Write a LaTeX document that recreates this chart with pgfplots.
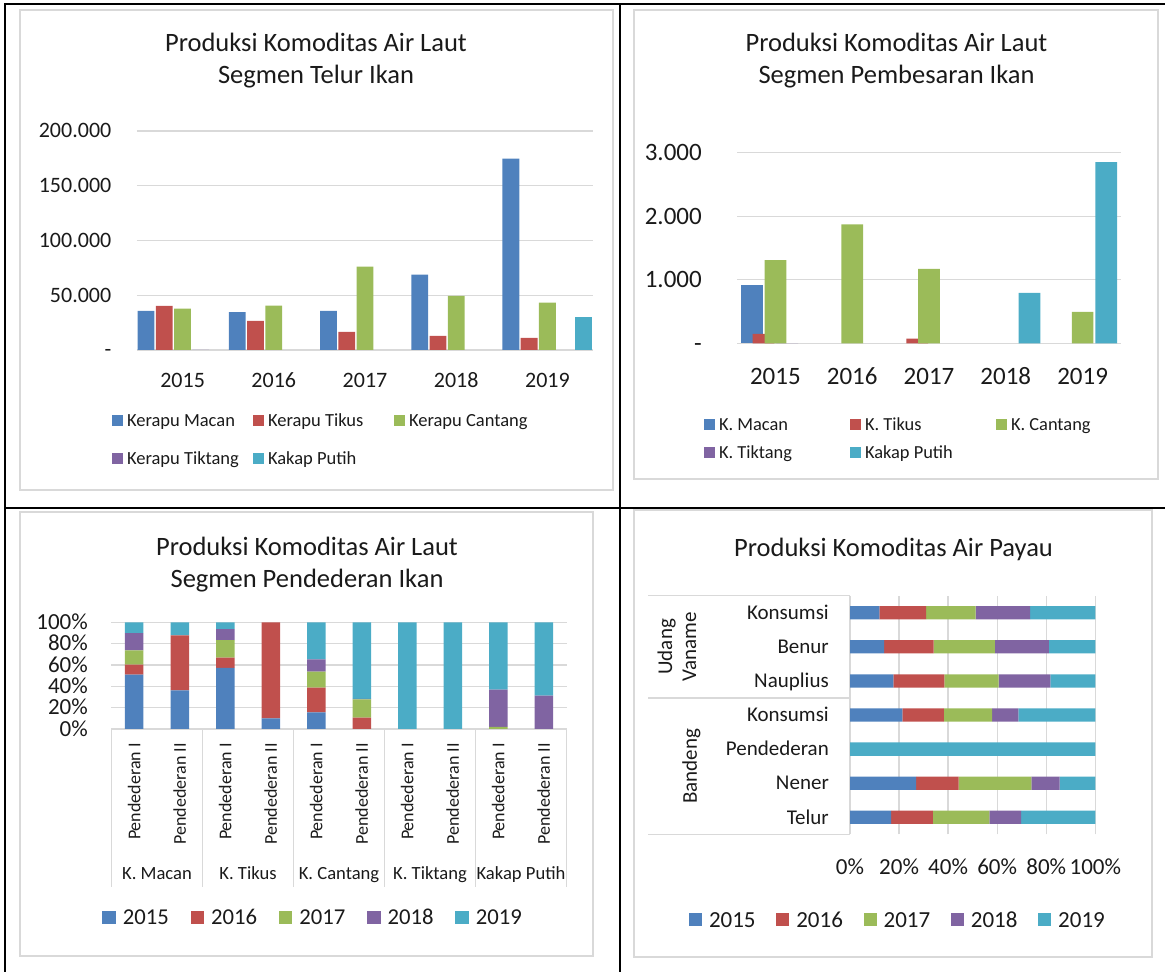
\documentclass[border=0pt]{standalone}
\usepackage{fontspec}
\setmainfont{Carlito}
\usepackage{pgfplots}
\pgfplotsset{compat=1.18}
\definecolor{c1}{HTML}{4F81BD}
\definecolor{c2}{HTML}{C0504D}
\definecolor{c3}{HTML}{9BBB59}
\definecolor{c4}{HTML}{8064A2}
\definecolor{c5}{HTML}{4BACC6}
\definecolor{gridc}{HTML}{D9D9D9}
\definecolor{txt}{HTML}{1A1A1A}
\newcommand{\fsz}[1]{\fontsize{#1}{#1}\selectfont}
\pgfplotsset{
  base/.style={
    scale only axis, anchor=south west,
    axis line style={draw=none},
    major tick length=0pt, tick style={draw=none},
    major grid style={draw=gridc, line width=1.3pt},
    scaled y ticks=false, scaled x ticks=false,
    clip=false, legend cell align=left,
  },
  sqA/.style={legend image code/.code={\fill[##1] (0pt,-5.5pt) rectangle (11pt,5.5pt);}},
  sqC/.style={legend image code/.code={\fill[##1] (0pt,-6.75pt) rectangle (13.5pt,6.75pt);}},
  sqD/.style={legend image code/.code={\fill[##1] (0pt,-6.5pt) rectangle (13pt,6.5pt);}},
}
\begin{document}
\begin{tikzpicture}[every node/.append style={text=txt}]
\useasboundingbox (0pt,0pt) rectangle (1165pt,972pt);
% table lines
\draw[line width=2.5pt] (5pt,0pt) -- (5pt,968pt) -- (1165pt,968pt);
\draw[line width=2.5pt] (620pt,0pt) -- (620pt,968pt);
\draw[line width=2.5pt] (5pt,464pt) -- (1165pt,464pt);
% chart borders
\draw[gridc, line width=1.5pt] (20pt,482pt) rectangle (613pt,962pt);
\draw[gridc, line width=1.5pt] (634pt,493pt) rectangle (1158pt,962pt);
\draw[gridc, line width=1.5pt] (20pt,16pt) rectangle (593pt,460pt);
\draw[gridc, line width=1.5pt] (634pt,15pt) rectangle (1152pt,462pt);
% titles
\node[anchor=base, font=\fsz{26.5}] at (316pt,920.5pt) {Produksi Komoditas Air Laut};
\node[anchor=base, font=\fsz{26.5}] at (316pt,888.5pt) {Segmen Telur Ikan};
\node[anchor=base, font=\fsz{26.5}] at (896.5pt,920.5pt) {Produksi Komoditas Air Laut};
\node[anchor=base, font=\fsz{26.5}] at (896.5pt,888.5pt) {Segmen Pembesaran Ikan};
\node[anchor=base, font=\fsz{26.5}] at (307pt,416.5pt) {Produksi Komoditas Air Laut};
\node[anchor=base, font=\fsz{26.5}] at (307pt,384.5pt) {Segmen Pendederan Ikan};
\node[anchor=base, font=\fsz{26.5}] at (893.5pt,415.5pt) {Produksi Komoditas Air Payau};

% ---------------- Chart 1 ----------------
\begin{axis}[base, at={(137pt,622pt)}, width=456pt, height=219pt,
  xmin=-0.5, xmax=4.5, ymin=0, ymax=200000,
  xtick={0,1,2,3,4}, xticklabels={2015,2016,2017,2018,2019},
  ytick={0,50000,100000,150000,200000},
  yticklabels={-,50.000,100.000,150.000,200.000},
  ymajorgrids,
  xticklabel style={font=\fsz{22}, anchor=base, inner sep=0pt, yshift=-38pt},
  yticklabel style={font=\fsz{22}, anchor=base east, inner sep=0pt, xshift=-25.5pt, yshift=-7pt},
  legend columns=3,
  legend style={draw=none, fill=none, inner sep=0pt, outer sep=0pt,
    at={(-0.0548,-0.4103)}, anchor=west, font=\fsz{18.5},
    nodes={inner sep=0pt, outer sep=0pt, text height=11.9pt, text depth=0pt},
    row sep=26.4pt, /tikz/every odd column/.append style={column sep=4pt}},
]
\addplot[ybar, bar width=16.8pt, bar shift=-36.5pt, fill=c1, draw=none, sqA]
  coordinates {(0,35700) (1,34500) (2,35700) (3,68900) (4,174700)};
\addlegendentry{\makebox[126pt][l]{Kerapu Macan}}
\addplot[ybar, bar width=16.8pt, bar shift=-18.25pt, fill=c2, draw=none, sqA]
  coordinates {(0,40200) (1,26500) (2,16500) (3,12800) (4,11000)};
\addlegendentry{\makebox[126pt][l]{Kerapu Tikus}}
\addplot[ybar, bar width=16.8pt, bar shift=0pt, fill=c3, draw=none, sqA]
  coordinates {(0,37800) (1,40500) (2,76200) (3,49400) (4,43300)};
\addlegendentry{\makebox[126pt][l]{Kerapu Cantang}}
\addplot[ybar, bar width=16.8pt, bar shift=18.25pt, fill=c4, draw=none, sqA]
  coordinates {(0,0)};
\addlegendentry{\makebox[126pt][l]{Kerapu Tiktang}}
\addplot[ybar, bar width=16.8pt, bar shift=36.5pt, fill=c5, draw=none, sqA]
  coordinates {(4,30500)};
\addlegendentry{\makebox[126pt][l]{Kakap Putih}}
\end{axis}

% ---------------- Chart 2 ----------------
\begin{axis}[base, at={(737pt,628.7pt)}, width=384pt, height=190.6pt,
  xmin=-0.5, xmax=4.5, ymin=0, ymax=3000,
  xtick={0,1,2,3,4}, xticklabels={2015,2016,2017,2018,2019},
  ytick={0,1000,2000,3000},
  yticklabels={-,1.000,2.000,3.000},
  ymajorgrids,
  xticklabel style={font=\fsz{25}, anchor=base, inner sep=0pt, yshift=-41pt},
  yticklabel style={font=\fsz{25}, anchor=base east, inner sep=0pt, xshift=-35pt, yshift=-7.9pt},
  legend columns=3,
  legend style={draw=none, fill=none, inner sep=0pt, outer sep=0pt,
    at={(-0.0859,-0.5021)}, anchor=west, font=\fsz{18.4},
    nodes={inner sep=0pt, outer sep=0pt, text height=11.85pt, text depth=0pt},
    row sep=16.15pt, /tikz/every odd column/.append style={column sep=4pt}},
]
\addplot[ybar, bar width=21.7pt, bar shift=-23.7pt, fill=c1, draw=none, sqA]
  coordinates {(0,918)};
\addlegendentry{\makebox[131pt][l]{K. Macan}}
\addplot[ybar, bar width=21.7pt, bar shift=-11.85pt, fill=c2, draw=none, sqA]
  coordinates {(0,147) (2,73)};
\addlegendentry{\makebox[131pt][l]{K. Tikus}}
\addplot[ybar, bar width=21.7pt, bar shift=0pt, fill=c3, draw=none, sqA]
  coordinates {(0,1311) (1,1872) (2,1170) (4,493)};
\addlegendentry{\makebox[131pt][l]{K. Cantang}}
\addplot[ybar, bar width=21.7pt, bar shift=11.85pt, fill=c4, draw=none, sqA]
  coordinates {(0,0)};
\addlegendentry{\makebox[131pt][l]{K. Tiktang}}
\addplot[ybar, bar width=21.7pt, bar shift=23.7pt, fill=c5, draw=none, sqA]
  coordinates {(3,792) (4,2853)};
\addlegendentry{\makebox[131pt][l]{Kakap Putih}}
\end{axis}

% ---------------- Chart 3 ----------------
\begin{axis}[base, at={(111.5pt,243pt)}, width=455pt, height=106.7pt,
  ybar stacked, bar width=18.5pt,
  every axis plot post/.append style={sqC},
  xmin=-0.5, xmax=9.5, ymin=0, ymax=100,
  xtick={0,1,2,3,4,5,6,7,8,9},
  xticklabels={Pendederan I,Pendederan II,Pendederan I,Pendederan II,Pendederan I,Pendederan II,Pendederan I,Pendederan II,Pendederan I,Pendederan II},
  ytick={0,20,40,60,80,100},
  yticklabels={0\%,20\%,40\%,60\%,80\%,100\%},
  ymajorgrids,
  xticklabel style={font=\fsz{18}, rotate=90, anchor=east, inner sep=0pt},
  xticklabel shift=14pt,
  yticklabel style={font=\fsz{23}, anchor=base east, inner sep=0pt, xshift=-23.5pt, yshift=-7.3pt},
  legend columns=5,
  legend style={draw=none, fill=none, inner sep=0pt, outer sep=0pt,
    at={(-0.02,-1.7685)}, anchor=west, font=\fsz{22.7},
    nodes={inner sep=0pt, outer sep=0pt, text height=14.3pt, text depth=0pt},
    /tikz/every odd column/.append style={column sep=7pt}},
]
\addplot[fill=c1, draw=none] coordinates {(0,51) (1,36.3) (2,57.2) (3,10) (4,15.6) (5,0) (6,0) (7,0) (8,0) (9,0)};
\addlegendentry{\makebox[67.75pt][l]{2015}}
\addplot[fill=c2, draw=none] coordinates {(0,9.4) (1,51.5) (2,9.7) (3,90) (4,23.1) (5,10.6) (6,0) (7,0) (8,0) (9,0)};
\addlegendentry{\makebox[67.75pt][l]{2016}}
\addplot[fill=c3, draw=none] coordinates {(0,13.4) (1,0) (2,16.5) (3,0) (4,15) (5,17.2) (6,0) (7,0) (8,1.9) (9,0)};
\addlegendentry{\makebox[67.75pt][l]{2017}}
\addplot[fill=c4, draw=none] coordinates {(0,16) (1,0) (2,10.3) (3,0) (4,11.6) (5,0.5) (6,0) (7,0) (8,35) (9,31.25)};
\addlegendentry{\makebox[67.75pt][l]{2018}}
\addplot[fill=c5, draw=none] coordinates {(0,10.2) (1,12.2) (2,6.3) (3,0) (4,34.7) (5,71.7) (6,100) (7,100) (8,63.1) (9,68.75)};
\addlegendentry{\makebox[67.75pt][l]{2019}}
\draw[gridc, line width=1.3pt] (axis cs:-0.5,0) -- (axis cs:9.5,0);
\draw[gridc, line width=1.3pt] (axis cs:-0.5,0) -- ++(0pt,-158pt);
\draw[gridc, line width=1.3pt] (axis cs:1.5,0) -- ++(0pt,-158pt);
\draw[gridc, line width=1.3pt] (axis cs:3.5,0) -- ++(0pt,-158pt);
\draw[gridc, line width=1.3pt] (axis cs:5.5,0) -- ++(0pt,-158pt);
\draw[gridc, line width=1.3pt] (axis cs:7.5,0) -- ++(0pt,-158pt);
\draw[gridc, line width=1.3pt] (axis cs:9.5,0) -- ++(0pt,-158pt);
\node[anchor=base, font=\fsz{18.6}, yshift=-151pt] at (axis cs:0.5,0) {K. Macan};
\node[anchor=base, font=\fsz{18.6}, yshift=-151pt] at (axis cs:2.5,0) {K. Tikus};
\node[anchor=base, font=\fsz{18.6}, yshift=-151pt] at (axis cs:4.5,0) {K. Cantang};
\node[anchor=base, font=\fsz{18.6}, yshift=-151pt] at (axis cs:6.5,0) {K. Tiktang};
\node[anchor=base, font=\fsz{18.6}, yshift=-151pt] at (axis cs:8.5,0) {Kakap Putih};
\end{axis}

% ---------------- Chart 4 ----------------
\begin{axis}[base, at={(850pt,137.65pt)}, width=245.3pt, height=238.7pt,
  xbar stacked, bar width=13.3pt,
  every axis plot post/.append style={sqD},
  xmin=0, xmax=100, ymin=-0.5, ymax=6.5,
  ytick={0,1,2,3,4,5,6},
  yticklabels={Telur,Nener,Pendederan,Konsumsi,Nauplius,Benur,Konsumsi},
  xtick={0,20,40,60,80,100},
  xticklabels={0\%,20\%,40\%,60\%,80\%,100\%},
  xmajorgrids,
  xticklabel style={font=\fsz{23}, anchor=base, inner sep=0pt, yshift=-39.7pt},
  yticklabel style={font=\fsz{21}, anchor=base east, inner sep=0pt, xshift=-21pt, yshift=-6.8pt},
  legend columns=5,
  legend style={draw=none, fill=none, inner sep=0pt, outer sep=0pt,
    at={(-0.6563,-0.3588)}, anchor=west, font=\fsz{23},
    nodes={inner sep=0pt, outer sep=0pt, text height=14.5pt, text depth=0pt},
    /tikz/every odd column/.append style={column sep=7pt}},
]
\addplot[fill=c1, draw=none] coordinates {(16.8,0) (27.0,1) (0,2) (21.3,3) (17.7,4) (13.9,5) (12.0,6)};
\addlegendentry{\makebox[67.3pt][l]{2015}}
\addplot[fill=c2, draw=none] coordinates {(17.0,0) (17.3,1) (0,2) (17.0,3) (20.8,4) (20.2,5) (19.0,6)};
\addlegendentry{\makebox[67.3pt][l]{2016}}
\addplot[fill=c3, draw=none] coordinates {(23.0,0) (29.6,1) (0,2) (19.6,3) (22.1,4) (25.0,5) (20.2,6)};
\addlegendentry{\makebox[67.3pt][l]{2017}}
\addplot[fill=c4, draw=none] coordinates {(13.0,0) (11.6,1) (0,2) (10.7,3) (21.1,4) (22.0,5) (22.2,6)};
\addlegendentry{\makebox[67.3pt][l]{2018}}
\addplot[fill=c5, draw=none] coordinates {(30.2,0) (14.5,1) (100,2) (31.4,3) (18.3,4) (18.9,5) (26.6,6)};
\addlegendentry{\makebox[67.3pt][l]{2019}}
\draw[gridc, line width=1.3pt] (axis cs:0,-0.5) -- (axis cs:0,6.5);
\draw[gridc, line width=1.3pt] (axis cs:0,6.5) -- ++(-202pt,0pt);
\draw[gridc, line width=1.3pt] (axis cs:0,3.5) -- ++(-202pt,0pt);
\draw[gridc, line width=1.3pt] (axis cs:0,-0.5) -- ++(-202pt,0pt);
\node[rotate=90, align=center, font=\fontsize{21}{24}\selectfont] at ([xshift=-173pt]axis cs:0,5) {Udang\\Vaname};
\node[rotate=90, font=\fsz{21}] at ([xshift=-158.5pt]axis cs:0,1.5) {Bandeng};
\end{axis}
\end{tikzpicture}
\end{document}
